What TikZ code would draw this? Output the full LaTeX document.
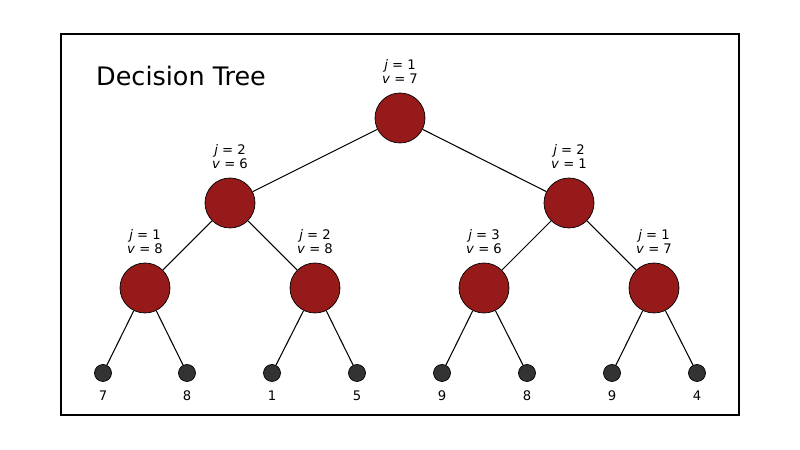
\documentclass[tikz,border=0pt]{standalone}
\usepackage{fontspec}
\setmainfont{DejaVu Sans}
\usetikzlibrary{positioning}
\definecolor{splitred}{HTML}{961A1A}
\definecolor{leafgray}{HTML}{333333}
\tikzset{
    split/.style={circle, draw=black, fill=splitred, minimum size=50\pxu, inner sep=0pt},
    leaf/.style={circle, draw=black, fill=leafgray, minimum size=17\pxu, inner sep=0pt},
    info/.style={font=\fontsize{7.5}{9}\selectfont, align=center, above=3\pxu},
    val/.style={font=\fontsize{7.5}{9}\selectfont, below=3\pxu},
    edge/.style={draw=black, line width=0.6pt},
}
\newcommand{\pxu}{*0.2mm}
\newcommand{\jv}[2]{\textit{j} = #1\\[-1pt]\textit{v} = #2}
\begin{document}
\begin{tikzpicture}[x=0.2mm, y=-0.2mm]
    \useasboundingbox (0,0) rectangle (800,450);
    \draw[line width=0.6pt] (61,34) rectangle (739,415);
    \node[anchor=west, font=\fontsize{14.5}{17}\selectfont] (title) at (90,76) {Decision Tree};

    % split nodes
    \node [split] (N0) at (400,118) {};
    \node [split] (N1) at (230,203) {};
    \node [split] (N2) at (569,203) {};
    \node [split] (N3) at (145,288) {};
    \node [split] (N4) at (315,288) {};
    \node [split] (N5) at (484,288) {};
    \node [split] (N6) at (654,288) {};

    \node [info] (I0) at (N0.north) {\jv{1}{7}};
    \node [info] (I1) at (N1.north) {\jv{2}{6}};
    \node [info] (I2) at (N2.north) {\jv{2}{1}};
    \node [info] (I3) at (N3.north) {\jv{1}{8}};
    \node [info] (I4) at (N4.north) {\jv{2}{8}};
    \node [info] (I5) at (N5.north) {\jv{3}{6}};
    \node [info] (I6) at (N6.north) {\jv{1}{7}};

    % leaves
    \foreach \i/\x/\v in {1/103/7, 2/187/8, 3/272/1, 4/357/5, 5/442/9, 6/527/8, 7/612/9, 8/697/4} {
        \node [leaf] (L\i) at (\x,373) {};
        \node [val] (V\i) at (L\i.south) {\v};
    }

    \draw [edge] (N0) -- (N1);
    \draw [edge] (N0) -- (N2);
    \draw [edge] (N1) -- (N3);
    \draw [edge] (N1) -- (N4);
    \draw [edge] (N2) -- (N5);
    \draw [edge] (N2) -- (N6);
    \draw [edge] (N3) -- (L1);
    \draw [edge] (N3) -- (L2);
    \draw [edge] (N4) -- (L3);
    \draw [edge] (N4) -- (L4);
    \draw [edge] (N5) -- (L5);
    \draw [edge] (N5) -- (L6);
    \draw [edge] (N6) -- (L7);
    \draw [edge] (N6) -- (L8);
\end{tikzpicture}
\end{document}
